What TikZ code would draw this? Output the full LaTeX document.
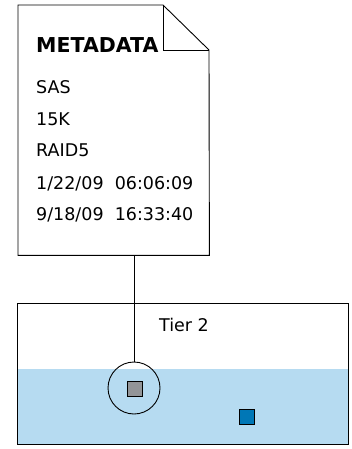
\documentclass[tikz,border=0pt]{standalone}
\usepackage{fontspec}
\setmainfont{DejaVu Sans}
\definecolor{tierblue}{HTML}{B6DBF1}
\definecolor{blockblue}{HTML}{0077B6}
\definecolor{blockgray}{HTML}{939598}
\begin{document}
\begin{tikzpicture}[x=1pt,y=-1pt,
  line/.style={draw=black,line width=0.9pt},
  meta/.style={anchor=base west,inner sep=0pt,font=\fontsize{17.5}{19}\selectfont},
  metahead/.style={anchor=base west,inner sep=0pt,font=\fontsize{20.5}{22}\selectfont\bfseries},
  block/.style={draw=black,line width=0.8pt,minimum size=15pt,inner sep=0pt}]
\useasboundingbox (0,0) rectangle (352,449);
% document
\node[minimum width=191pt,minimum height=250pt,inner sep=0pt,anchor=north west] (doc) at (18,5) {};
\coordinate (fold) at (163,5);
\coordinate (foldc) at (209,50);
\draw[line,fill=white,line join=miter] (doc.north west) -- (fold) -- (foldc) -- (doc.south east) -- (doc.south west) -- cycle;
\draw[line] (fold) -- (fold |- foldc) -- (foldc);
\node[metahead] (title) at (36,53) {METADATA};
\node[meta] (l1) at (36,94) {SAS};
\node[meta] (l2) at (36,126) {15K};
\node[meta] (l3) at (36,157) {RAID5};
\node[meta] (l4) at (36,189) {1/22/09\ \ 06:06:09};
\node[meta] (l5) at (36,220) {9/18/09\ \ 16:33:40};
% tier
\node[minimum width=331pt,minimum height=141pt,inner sep=0pt,anchor=north west] (tier) at (17,303) {};
\fill[tierblue] (tier.west |- 0,369) rectangle (tier.south east);
\draw[line] (tier.north west) rectangle (tier.south east);
\node[anchor=base,inner sep=0pt,font=\fontsize{17.5}{19}\selectfont] (tiername) at (184,331) {Tier 2};
\node[block,fill=blockgray] (gray) at (135,389) {};
\node[block,fill=blockblue] (blue) at (247,417) {};
\node[circle,draw=black,line width=0.9pt,minimum size=52pt,inner sep=0pt] (ring) at (134,388) {};
\draw[line] (ring |- doc.south) -- (ring.north);
\end{tikzpicture}
\end{document}
